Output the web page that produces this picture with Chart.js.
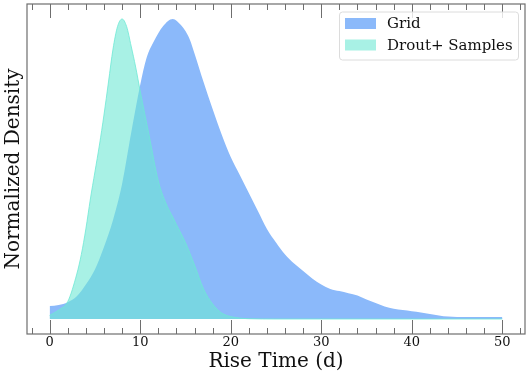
<!DOCTYPE html>
<html>
<head>
<meta charset="utf-8">
<script src="https://cdn.jsdelivr.net/npm/chart.js@4/dist/chart.umd.min.js"></script>
<style>
  html, body { margin: 0; padding: 0; background: #fff; }
  #wrap { width: 529px; height: 376px; }
</style>
</head>
<body>
<div id="wrap"><canvas id="kdeChart" width="529" height="376"></canvas></div>
<script>
// values
const seriesNames = ['Grid', 'Drout+ Samples'];

const gridX = [0, 1, 2, 3, 4, 5, 6, 7, 8, 9, 10, 10.7, 11.5, 12.5, 13.6, 14.5, 15, 15.5, 16, 17, 18, 19, 20, 21, 22, 23, 24, 25, 26, 27, 28, 29, 30, 31, 32, 33, 34, 35, 36, 37, 38, 39, 40, 41, 42, 43, 44, 45, 47, 50];
const gridY = [0.043, 0.047, 0.056, 0.076, 0.115, 0.165, 0.24, 0.33, 0.45, 0.62, 0.78, 0.87, 0.925, 0.975, 1.0, 0.98, 0.96, 0.93, 0.885, 0.79, 0.70, 0.615, 0.54, 0.48, 0.42, 0.36, 0.30, 0.255, 0.215, 0.185, 0.16, 0.135, 0.115, 0.10, 0.093, 0.086, 0.078, 0.065, 0.053, 0.042, 0.034, 0.03, 0.026, 0.022, 0.017, 0.012, 0.008, 0.007, 0.007, 0.007];

const droutX = [0, 1, 2, 3, 3.5, 4, 4.5, 5, 5.5, 6, 6.5, 7, 7.5, 8, 8.5, 9, 9.5, 10, 11, 12, 13, 13.6, 14, 15, 16, 17, 18, 19, 20, 21, 22, 25, 30, 40, 50];
const droutY = [0.012, 0.03, 0.058, 0.15, 0.215, 0.3, 0.4, 0.49, 0.58, 0.68, 0.79, 0.9, 0.975, 1.0, 0.975, 0.91, 0.84, 0.76, 0.61, 0.46, 0.375, 0.34, 0.315, 0.255, 0.18, 0.1, 0.05, 0.02, 0.008, 0.003, 0.001, 0, 0, 0, 0];

const xTickLabels = [0, 10, 20, 30, 40, 50];

const toPoints = (xs, ys) => xs.map((x, i) => ({ x: x, y: ys[i] }));

const blue = 'rgb(139, 185, 250)';
const cyan = 'rgba(110, 232, 212, 0.6)';
const axisGray = '#6e6e6e';
const serif = "'DejaVu Serif', 'Liberation Serif', serif";

// frame, inward ticks on top and bottom, legend box
const decorations = {
    id: 'decorations',
    afterDraw(chart) {
        const ctx = chart.ctx;
        const area = chart.chartArea;
        const xs = chart.scales.x;
        ctx.save();
        ctx.strokeStyle = axisGray;
        ctx.lineWidth = 1.2;
        ctx.strokeRect(area.left, area.top, area.right - area.left, area.bottom - area.top);

        ctx.lineWidth = 1;
        for (let v = -2; v <= 52; v += 2) {
            const px = Math.round(xs.getPixelForValue(v)) + 0.5;
            const len = v % 10 === 0 ? 14 : 6;
            ctx.beginPath();
            ctx.moveTo(px, area.bottom);
            ctx.lineTo(px, area.bottom - len);
            ctx.moveTo(px, area.top);
            ctx.lineTo(px, area.top + len);
            ctx.stroke();
        }

        // legend
        const lx = 339, ly = 11.5, lw = 179, lh = 48;
        ctx.fillStyle = 'rgba(255,255,255,0.8)';
        ctx.strokeStyle = '#dcdcdc';
        ctx.lineWidth = 1;
        ctx.beginPath();
        ctx.roundRect(lx + 0.5, ly + 0.5, lw, lh, 3);
        ctx.fill();
        ctx.stroke();

        const swatches = [blue, cyan];
        ctx.font = '15px ' + serif;
        ctx.textBaseline = 'middle';
        seriesNames.forEach((name, i) => {
            const cy = 23.5 + i * 21.5;
            ctx.fillStyle = '#fff';
            ctx.fillRect(345, cy - 5.5, 31, 11);
            ctx.fillStyle = swatches[i];
            ctx.fillRect(345, cy - 5.5, 31, 11);
            ctx.fillStyle = '#111';
            ctx.fillText(name, 387, cy + 1);
        });
        ctx.restore();
    }
};

new Chart(document.getElementById('kdeChart'), {
    type: 'line',
    data: {
        datasets: [{
            label: seriesNames[0],
            data: toPoints(gridX, gridY),
            backgroundColor: blue,
            borderColor: blue,
            borderWidth: 0,
            fill: 'origin',
            pointRadius: 0,
            cubicInterpolationMode: 'monotone',
            order: 2
        }, {
            label: seriesNames[1],
            data: toPoints(droutX, droutY),
            backgroundColor: cyan,
            borderColor: 'rgba(110, 232, 212, 0.8)',
            borderWidth: 1,
            fill: 'origin',
            pointRadius: 0,
            cubicInterpolationMode: 'monotone',
            order: 1
        }]
    },
    options: {
        responsive: false,
        animation: false,
        devicePixelRatio: 1,
        layout: { padding: { top: 4, right: 4, left: 0, bottom: 0 } },
        plugins: {
            legend: { display: false },
            tooltip: { enabled: false }
        },
        scales: {
            x: {
                type: 'linear',
                min: -2.5,
                max: 52.5,
                afterBuildTicks(scale) {
                    scale.ticks = xTickLabels.map(v => ({ value: v }));
                },
                afterFit(scale) { scale.height = 42; },
                grid: { display: false, drawTicks: false },
                border: { display: false },
                ticks: {
                    padding: 1,
                    color: '#111',
                    maxRotation: 0,
                    font: { family: serif, size: 13 }
                },
                title: {
                    display: true,
                    text: 'Rise Time (d)',
                    color: '#111',
                    padding: { top: 0, bottom: 2 },
                    font: { family: serif, size: 20 }
                }
            },
            y: {
                min: -0.05,
                max: 1.05,
                afterFit(scale) { scale.width = 27; },
                grid: { display: false, drawTicks: false },
                border: { display: false },
                ticks: { display: false },
                title: {
                    display: true,
                    text: 'Normalized Density',
                    color: '#111',
                    padding: { top: 2, bottom: 0 },
                    font: { family: serif, size: 20 }
                }
            }
        }
    },
    plugins: [decorations]
});
</script>
</body>
</html>
